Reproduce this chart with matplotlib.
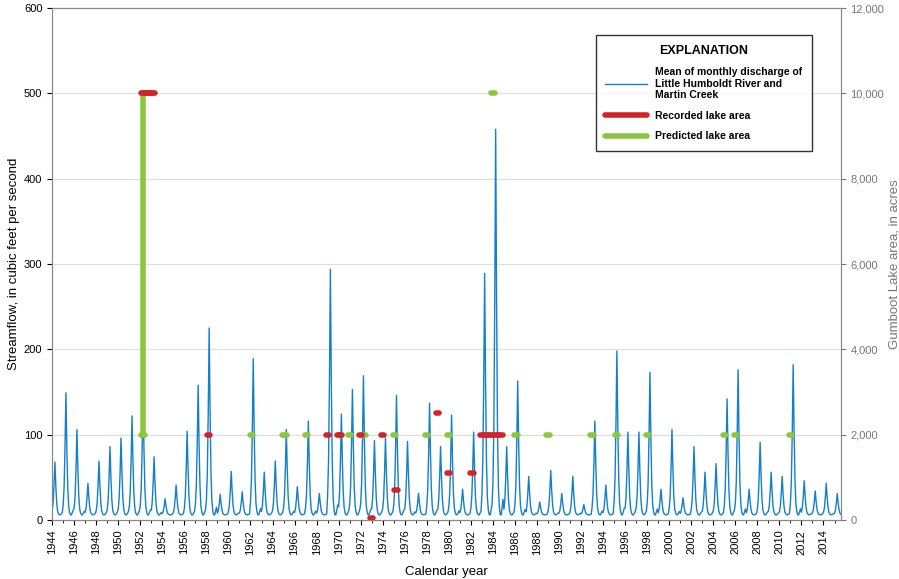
import numpy as np
import matplotlib.pyplot as plt

plt.rcParams['font.family'] = ['Liberation Sans', 'DejaVu Sans']

# annual spring peak of mean monthly discharge, ft3/s
years = list(range(1944, 2016))
peaks = [62, 143, 100, 37, 63, 80, 90, 116, 140, 68, 19, 35, 98, 152, 219, 24, 51, 27,
         183, 50, 63, 100, 33, 110, 25, 288, 118, 147, 163, 87, 90, 140, 86, 25, 131, 80,
         117, 30, 97, 283, 452, 80, 157, 45, 15, 52, 25, 45, 12, 110, 35, 192, 97, 97,
         167, 30, 100, 20, 80, 50, 60, 136, 170, 30, 85, 50, 45, 176, 40, 28, 37, 25]
# shape of a year's snowmelt hydrograph, Jan..Dec, as share of the peak
season = [0.08, 0.22, 0.55, 1.0, 0.55, 0.22, 0.07, 0.02, 0.0, 0.0, 0.02, 0.04]
baseflow = 6

rec_years = [1952.2, 1952.4, 1952.6, 1952.8, 1953.0, 1953.2, 1958.2, 1969.0, 1970.0, 1970.2,
             1972.0, 1973.0, 1974.0, 1975.2, 1979.0, 1980.0, 1982.1,
             1983.0, 1983.3, 1983.6, 1983.9, 1984.2, 1984.5, 1984.8]
rec_area = [10000, 10000, 10000, 10000, 10000, 10000, 2000, 2000, 2000, 2000,
            2000, 40, 2000, 700, 2500, 1100, 1100,
            2000, 2000, 2000, 2000, 2000, 2000, 2000]
pred_years = [1952.25, 1962.1, 1965.0, 1965.2, 1967.1, 1971.0, 1972.3, 1975.1, 1978.0,
              1980.0, 1984.0, 1986.1, 1989.0, 1993.0, 1995.2, 1998.0, 2005.0, 2006.0, 2011.0]
pred_area = [2000, 2000, 2000, 2000, 2000, 2000, 2000, 2000, 2000,
             2000, 10000, 2000, 2000, 2000, 2000, 2000, 2000, 2000, 2000]

t = []
q = []
for y, p in zip(years, peaks):
    for m, s in enumerate(season):
        t.append(y + m / 12)
        q.append(baseflow + p * s)

fig = plt.figure(figsize=(8.99, 5.79), dpi=100)
ax = fig.add_axes([0.058, 0.102, 0.877, 0.884])
ax2 = ax.twinx()
ax.set_zorder(ax2.get_zorder() + 1)
ax.patch.set_visible(False)

for v in range(100, 700, 100):
    ax.axhline(v, color='#dddddd', lw=0.8, zorder=0)

flow_label = 'Mean of monthly discharge of\nLittle Humboldt River and\nMartin Creek'
ax.plot(t, q, color='#1380c8', lw=1.0, zorder=2, label=flow_label)

# lake area marks, converted to the flow axis scale for layering
scale = 600 / 12000
ax.plot([1952.25, 1952.25], [2000 * scale, 10000 * scale], color='#8cc63f', lw=4, zorder=3)
for i, (yr, a) in enumerate(zip(pred_years, pred_area)):
    ax.plot([yr - 0.15, yr + 0.15], [a * scale] * 2, color='#8cc63f', lw=4, solid_capstyle='round',
            zorder=3, label='Predicted lake area' if i == 0 else None)
for i, (yr, a) in enumerate(zip(rec_years, rec_area)):
    ax.plot([yr - 0.15, yr + 0.15], [a * scale] * 2, color='#d2232a', lw=4, solid_capstyle='round',
            zorder=4, label='Recorded lake area' if i == 0 else None)

ax.set_xlim(1944, 2015.55)
ax.set_ylim(0, 600)
ax2.set_ylim(0, 12000)
ax.set_xticks(range(1944, 2016, 2))
ax.set_xticklabels([str(y) for y in range(1944, 2016, 2)], rotation=90, fontsize=8)
ax.set_xticks(range(1944, 2016), minor=True)
ax.set_yticks(range(0, 700, 100))
ax.tick_params(axis='y', labelsize=8)
ax2.set_yticks(range(0, 14000, 2000))
ax2.set_yticklabels(['0', '2,000', '4,000', '6,000', '8,000', '10,000', '12,000'])
ax2.tick_params(axis='y', labelsize=8, colors='#777777')
ax.set_xlabel('Calendar year', fontsize=9.5, labelpad=8)
ax.set_ylabel('Streamflow, in cubic feet per second', fontsize=9.5, labelpad=3)
ax2.set_ylabel('Gumboot Lake area, in acres', fontsize=9.5, color='#777777', labelpad=3)
for a in (ax, ax2):
    for s in a.spines.values():
        s.set_color('#888888')

h, l = ax.get_legend_handles_labels()
order = [l.index(x) for x in [flow_label, 'Recorded lake area', 'Predicted lake area']]
leg = ax.legend([h[i] for i in order], [l[i] for i in order], title='EXPLANATION',
                loc='upper right', bbox_to_anchor=(0.97, 0.957), fontsize=7.5,
                frameon=True, fancybox=False, edgecolor='black', borderpad=0.9,
                labelspacing=1.0, handlelength=4.0)
leg.get_title().set_fontweight('bold')
leg.get_title().set_fontsize(9)
for txt in leg.get_texts():
    txt.set_fontweight('bold')

fig.savefig('out.png', dpi=100)
